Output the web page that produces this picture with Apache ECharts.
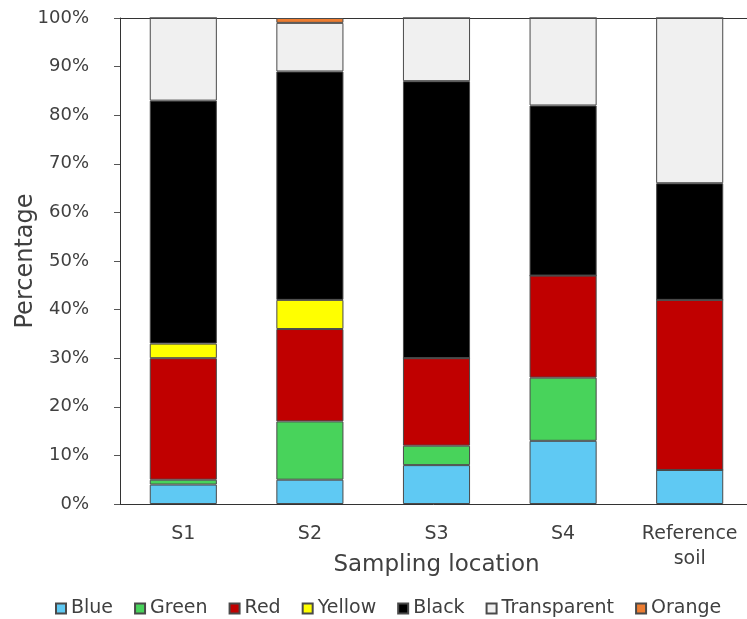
<!DOCTYPE html>
<html>
<head>
<meta charset="utf-8">
<script src="https://cdn.jsdelivr.net/npm/echarts@6/dist/echarts.min.js"></script>
<style>
  html, body { margin: 0; padding: 0; background: #fff; }
  #chart { width: 747px; height: 619px; }
</style>
</head>
<body>
<div id="chart"></div>
<script>
// Sampling locations along the x axis
const categories = ['S1', 'S2', 'S3', 'S4', 'Reference\nsoil'];

// Share of each colour class per location (percent)
const blue        = [4, 5, 8, 13, 7];
const green       = [1, 12, 4, 13, 0];
const red         = [25, 19, 18, 21, 35];
const yellow      = [3, 6, 0, 0, 0];
const black       = [50, 47, 57, 35, 24];
const transparent = [17, 10, 13, 18, 34];
const orange      = [0, 1, 0, 0, 0];

const seriesDefs = [
  { name: 'Blue', data: blue, color: '#5FC9F3' },
  { name: 'Green', data: green, color: '#48D35B' },
  { name: 'Red', data: red, color: '#C00000' },
  { name: 'Yellow', data: yellow, color: '#FFFF00' },
  { name: 'Black', data: black, color: '#000000' },
  { name: 'Transparent', data: transparent, color: '#F0F0F0' },
  { name: 'Orange', data: orange, color: '#ED7D31' }
];

const FONT = 'DejaVu Sans';
const TEXT = '#404040';

const chart = echarts.init(document.getElementById('chart'), null, { renderer: 'canvas' });

chart.setOption({
  animation: false,
  textStyle: { fontFamily: FONT },
  grid: {
    left: 120, top: 18, width: 633, height: 486,
    outerBoundsMode: 'none',
    containLabel: false,
    show: false
  },
  legend: {
    data: seriesDefs.map(s => s.name),
    left: 50, top: 594,
    itemWidth: 10, itemHeight: 10, itemGap: 21,
    icon: 'rect',
    textStyle: { fontFamily: FONT, fontSize: 19, color: TEXT }
  },
  xAxis: [{
    type: 'category',
    data: categories,
    name: 'Sampling location',
    nameLocation: 'middle',
    nameGap: 50,
    nameMoveOverlap: false,
    nameTextStyle: { fontFamily: FONT, fontSize: 23, color: TEXT },
    axisLine: { lineStyle: { color: '#333', width: 1 } },
    axisTick: { show: false },
    axisLabel: { fontFamily: FONT, fontSize: 19, color: TEXT, margin: 18, lineHeight: 25 }
  }, {
    // plain frame line along the top edge of the plot
    type: 'category',
    data: categories,
    position: 'top',
    axisLine: { show: true, lineStyle: { color: '#333', width: 1 } },
    axisTick: { show: false },
    axisLabel: { show: false },
    splitLine: { show: false }
  }],
  yAxis: {
    type: 'value',
    min: 0, max: 100, interval: 10,
    name: 'Percentage',
    nameLocation: 'middle',
    nameGap: 82,
    nameMoveOverlap: false,
    nameTextStyle: { fontFamily: FONT, fontSize: 24, color: TEXT },
    axisLine: { show: true, lineStyle: { color: '#333', width: 1 } },
    axisTick: { show: true, inside: false, length: 6, lineStyle: { color: '#555' } },
    splitLine: { show: false },
    axisLabel: { fontFamily: FONT, fontSize: 18, color: TEXT, margin: 31, formatter: '{value}%' }
  },
  series: seriesDefs.map(s => ({
    name: s.name,
    type: 'bar',
    stack: 'total',
    barWidth: '53%',
    data: s.data,
    itemStyle: { color: s.color, borderColor: '#4a4a4a', borderWidth: 1 }
  }))
});
</script>
</body>
</html>
